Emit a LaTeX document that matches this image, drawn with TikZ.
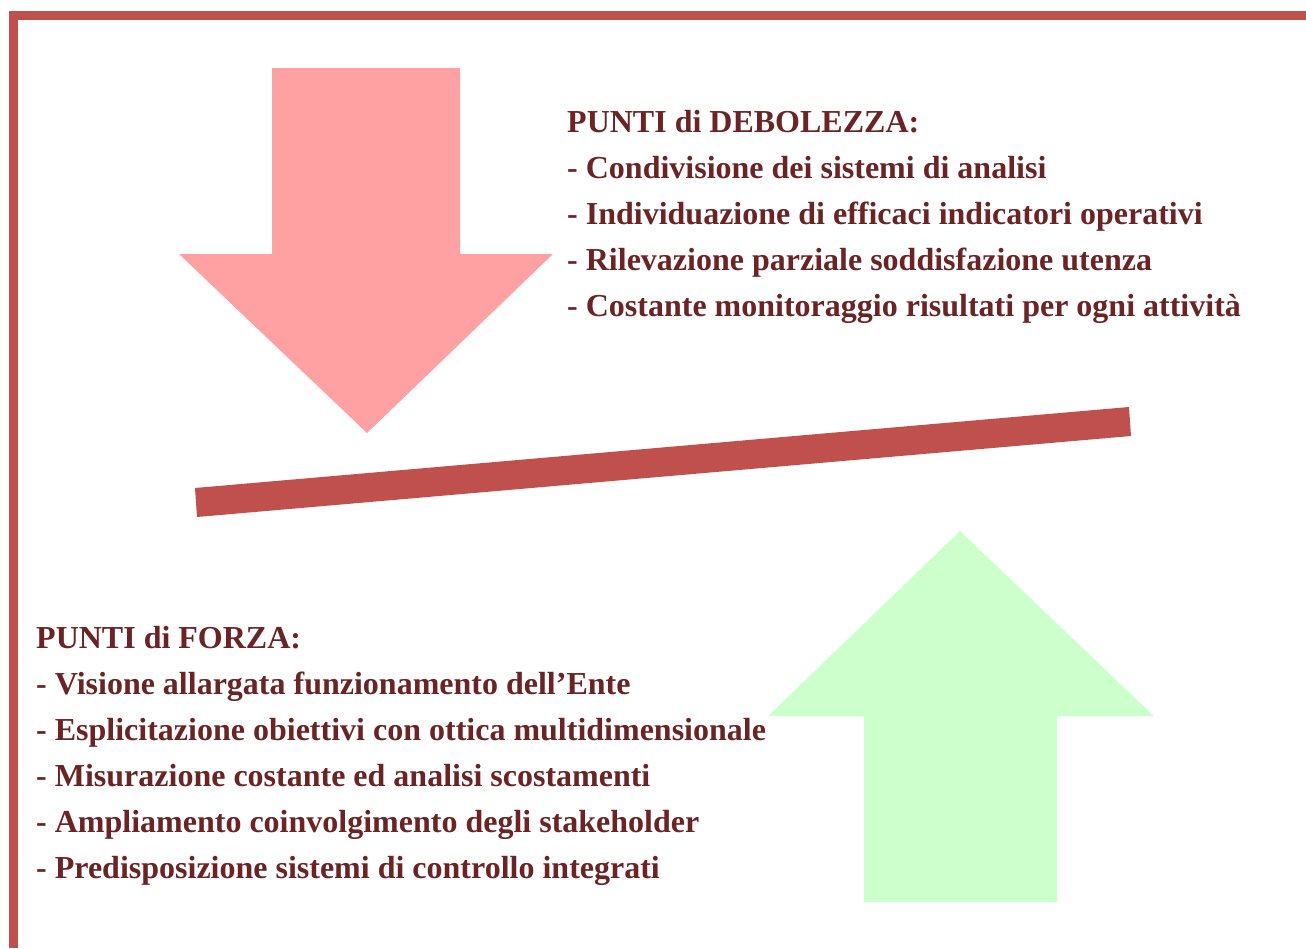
\documentclass[tikz,border=0pt]{standalone}
\usepackage{fontspec}
\setmainfont{Liberation Serif}
\definecolor{barred}{HTML}{C0504D}
\definecolor{weakpink}{HTML}{FFA0A2}
\definecolor{stronggreen}{HTML}{CCFFCC}
\definecolor{textbrown}{HTML}{6B2325}
\tikzset{
  pointtext/.style={anchor=base west,inner sep=0pt,text=textbrown,
    font=\fontsize{32}{46}\selectfont\bfseries}
}
\begin{document}
\begin{tikzpicture}[x=1pt,y=-1pt]
      \useasboundingbox (0,0) rectangle (1306,948);
      \node (zero) at (0,0) {};

      %%%%%%%%%%%%%%%%%%%%%%%%%%%%%%%%%%%%%%%%%%%%%%%%%%%%%%%%%%%%%%%%%%%%%%%%%%%
      %%%%  Frame
      \fill[barred] (9,11) rectangle (1306,20);
      \fill[barred] (9,11) rectangle (18,948);

      %%%%%%%%%%%%%%%%%%%%%%%%%%%%%%%%%%%%%%%%%%%%%%%%%%%%%%%%%%%%%%%%%%%%%%%%%%%
      %%%%  Pink arrow (down)
      \fill[weakpink] (272,68) -- (460,68) -- (460,254) -- (553,254)
        -- (367,433) -- (179,254) -- (272,254) -- cycle;

      %%%%  Green arrow (up)
      \fill[stronggreen] (864,902) -- (1057,902) -- (1057,716) -- (1154,716)
        -- (960,531) -- (768,716) -- (864,716) -- cycle;

      %%%%  Balance bar
      \fill[barred] (195,488) -- (1129,407) -- (1131,436) -- (197,517) -- cycle;

      %%%%%%%%%%%%%%%%%%%%%%%%%%%%%%%%%%%%%%%%%%%%%%%%%%%%%%%%%%%%%%%%%%%%%%%%%%%
      %%%%  Texts
      \foreach \txt [count=\i] in
        {PUNTI di DEBOLEZZA:,
         - Condivisione dei sistemi di analisi,
         - Individuazione di efficaci indicatori operativi,
         - Rilevazione parziale soddisfazione utenza,
         - Costante monitoraggio risultati per ogni attività}
       {\pgfmathsetmacro\yy{132 + 46*(\i-1)}
        \node[pointtext] (weak\i) at (567,\yy) {\txt};
       };

      \foreach \txt [count=\i] in
        {PUNTI di FORZA:,
         - Visione allargata funzionamento dell’Ente,
         - Esplicitazione obiettivi con ottica multidimensionale,
         - Misurazione costante ed analisi scostamenti,
         - Ampliamento coinvolgimento degli stakeholder,
         - Predisposizione sistemi di controllo integrati}
       {\pgfmathsetmacro\yy{648 + 46*(\i-1)}
        \node[pointtext] (strong\i) at (36,\yy) {\txt};
       };
    \end{tikzpicture}
\end{document}
